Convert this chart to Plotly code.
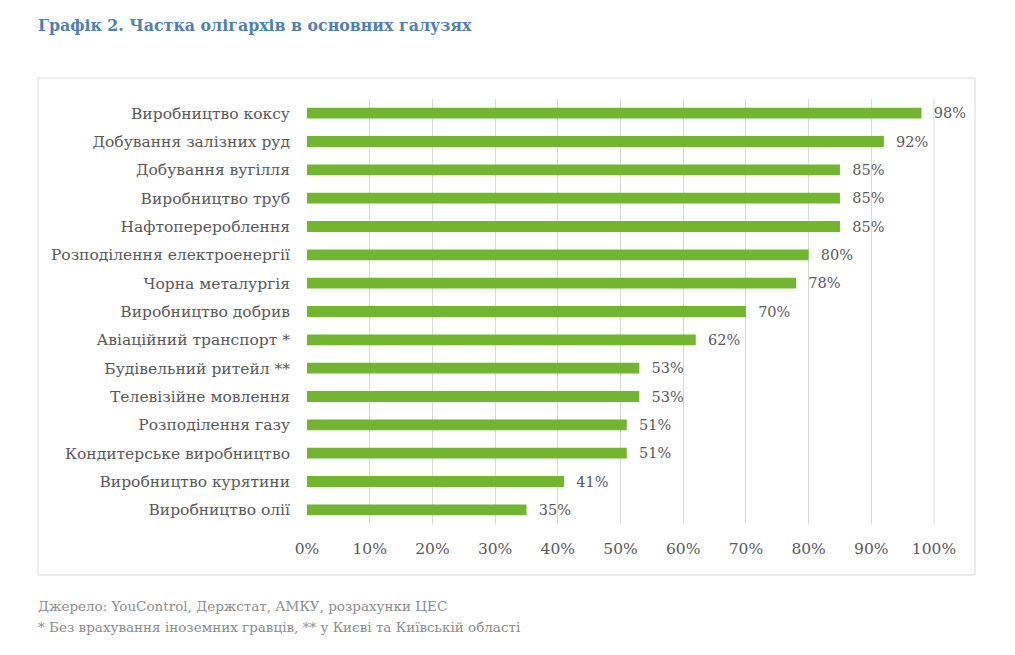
import plotly.graph_objects as go

categories = [
    "Виробництво коксу",
    "Добування залізних руд",
    "Добування вугілля",
    "Виробництво труб",
    "Нафтоперероблення",
    "Розподілення електроенергії",
    "Чорна металургія",
    "Виробництво добрив",
    "Авіаційний транспорт *",
    "Будівельний ритейл **",
    "Телевізійне мовлення",
    "Розподілення газу",
    "Кондитерське виробництво",
    "Виробництво курятини",
    "Виробництво олії",
]
values = [0.98, 0.92, 0.85, 0.85, 0.85, 0.80, 0.78, 0.70, 0.62, 0.53, 0.53, 0.51, 0.51, 0.41, 0.35]
value_labels = ["98%", "92%", "85%", "85%", "85%", "80%", "78%", "70%", "62%", "53%", "53%", "51%", "51%", "41%", "35%"]
x_ticks = [0, 0.1, 0.2, 0.3, 0.4, 0.5, 0.6, 0.7, 0.8, 0.9, 1.0]
x_tick_labels = ["0%", "10%", "20%", "30%", "40%", "50%", "60%", "70%", "80%", "90%", "100%"]

title = "Графік 2. Частка олігархів в основних галузях"
source = "Джерело: YouControl, Держстат, АМКУ, розрахунки ЦЕС"
note = "* Без врахування іноземних гравців, ** у Києві та Київській області"

FONT = "DejaVu Serif"
GREY = "#595959"

fig = go.Figure(go.Bar(
    y=categories,
    x=values,
    orientation="h",
    marker=dict(color="#72B62E", line=dict(width=0)),
    width=0.38,
    text=value_labels,
    texttemplate="\u00a0\u00a0%{text}",
    textposition="outside",
    constraintext="none",
    textfont=dict(family=FONT, size=14.5, color=GREY),
    cliponaxis=False,
))

OFF = 8  # page body margin offset
W, H = 1015, 655
L, R, T, B = 307 - OFF, 81 + OFF, 99 - OFF, 131 + OFF
pw, ph = W - L - R, H - T - B

def px(x):
    return (x - OFF - L) / pw

def py(y):
    return (H - B - (y - OFF)) / ph

fig.update_layout(
    width=W, height=H,
    margin=dict(l=L, r=R, t=T, b=B),
    paper_bgcolor="white",
    plot_bgcolor="white",
    showlegend=False,
    font=dict(family=FONT, color=GREY),
    xaxis=dict(
        range=[0, 1.0],
        tickvals=x_ticks,
        ticktext=x_tick_labels,
        showgrid=True,
        gridcolor="#D9D9D9",
        gridwidth=1,
        zeroline=False,
        showline=False,
        ticks="",
        tickfont=dict(family=FONT, size=15.5, color=GREY),
        ticklabelstandoff=13,
    ),
    yaxis=dict(
        categoryorder="array",
        categoryarray=categories,
        autorange="reversed",
        showgrid=False,
        zeroline=False,
        showline=False,
        ticks="",
        tickfont=dict(family=FONT, size=15.5, color=GREY),
        ticklabelstandoff=16,
    ),
    shapes=[
        dict(type="rect", xref="paper", yref="paper",
             x0=px(38), x1=px(975), y0=py(575), y1=py(78),
             line=dict(color="#D9D9D9", width=1), fillcolor="rgba(0,0,0,0)", layer="below"),
        dict(type="line", xref="paper", yref="paper",
             x0=px(934), x1=px(934), y0=0, y1=1,
             line=dict(color="#D9D9D9", width=1), layer="below"),
    ],
    annotations=[
        dict(text="<b>" + title + "</b>", xref="paper", yref="paper",
             x=px(36), y=py(26), xanchor="left", yanchor="middle", showarrow=False,
             font=dict(family=FONT, size=15.8, color="#4F7FB8")),
        dict(text=source, xref="paper", yref="paper",
             x=px(36), y=py(606), xanchor="left", yanchor="middle", showarrow=False,
             font=dict(family=FONT, size=13.5, color="#8C8C8C")),
        dict(text=note, xref="paper", yref="paper",
             x=px(36), y=py(627), xanchor="left", yanchor="middle", showarrow=False,
             font=dict(family=FONT, size=13.5, color="#8C8C8C")),
    ],
)

fig.write_html("out.html")
